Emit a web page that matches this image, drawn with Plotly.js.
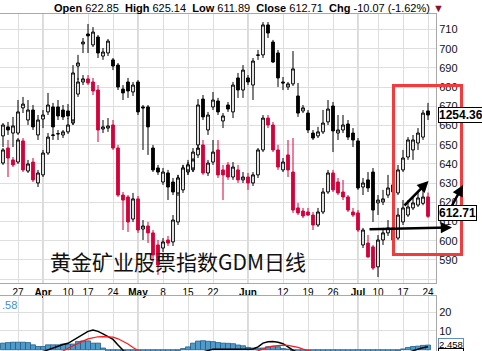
<!DOCTYPE html>
<html><head><meta charset="utf-8">
<script src="https://cdn.plot.ly/plotly-3.0.1.min.js"></script>
<style>html,body{margin:0;padding:0;background:#fff;overflow:hidden}#chart{width:482px;height:351px}</style>
</head><body><div id="chart"></div>
<script>
// trading days (2006)
const dates = [
'2006-03-22','2006-03-23','2006-03-24','2006-03-27','2006-03-28','2006-03-29','2006-03-30','2006-03-31',
'2006-04-03','2006-04-04','2006-04-05','2006-04-06','2006-04-07','2006-04-10','2006-04-11','2006-04-12','2006-04-13',
'2006-04-17','2006-04-18','2006-04-19','2006-04-20','2006-04-21','2006-04-24','2006-04-25','2006-04-26','2006-04-27','2006-04-28',
'2006-05-01','2006-05-02','2006-05-03','2006-05-04','2006-05-05','2006-05-08','2006-05-09','2006-05-10','2006-05-11','2006-05-12',
'2006-05-15','2006-05-16','2006-05-17','2006-05-18','2006-05-19','2006-05-22','2006-05-23','2006-05-24','2006-05-25','2006-05-26',
'2006-05-30','2006-05-31',
'2006-06-01','2006-06-02','2006-06-05','2006-06-06','2006-06-07','2006-06-08','2006-06-09','2006-06-12','2006-06-13','2006-06-14',
'2006-06-15','2006-06-16','2006-06-19','2006-06-20','2006-06-21','2006-06-22','2006-06-23','2006-06-26','2006-06-27','2006-06-28',
'2006-06-29','2006-06-30',
'2006-07-03','2006-07-05','2006-07-06','2006-07-07','2006-07-10','2006-07-11','2006-07-12','2006-07-13','2006-07-14',
'2006-07-17','2006-07-18','2006-07-19','2006-07-20','2006-07-21','2006-07-24'];

// gold series (right axis) – red down / hollow up
const rOpen  = [640.5,648.3,642.1,641.0,652.0,636.3,641.0,630.1,634.3,645.7,654.8,655.6,655.1,656.7,661.3,676.4,682.7,684.3,682.7,678.5,658.2,658.7,660.3,648.3,623.8,622.8,611.3,621.8,606.1,607.7,604.1,597.8,596.2,600.4,599.4,609.8,629.1,635.8,636.9,644.7,649.9,635.3,641.0,647.3,636.9,639.5,633.2,636.9,631.7,633.2,630.1,634.3,647.3,663.9,660.3,647.3,636.9,644.7,635.8,617.1,615.5,615.0,613.4,608.2,615.0,625.4,635.3,630.6,625.4,622.8,615.0,614.5,597.8,598.8,596.8,586.4,600.4,604.1,606.7,601.4,609.8,613.4,617.1,618.6,619.5,622.85];
const rHigh  = [648.3,652.5,643.6,653.5,653.5,642.1,643.1,636.9,647.3,656.1,657.7,657.7,657.7,663.9,670.7,684.8,686.3,686.3,684.8,681.1,662.9,663.9,662.9,649.9,625.4,623.8,624.9,623.3,610.8,609.8,605.6,600.4,601.4,602.5,613.4,634.3,639.5,642.1,648.3,649.9,652.5,642.1,652.5,652.5,639.5,641.0,641.0,639.5,635.8,635.3,635.8,648.3,665.5,665.5,661.9,649.9,643.1,652.5,653.5,619.7,617.1,617.1,615.0,617.1,627.5,636.9,636.9,632.7,631.7,623.8,617.1,616.0,606.7,603.0,597.8,603.0,606.7,610.8,609.8,617.1,621.2,621.2,623.3,625.4,626.5,625.14];
const rLow   = [639.5,633.2,638.4,640.0,635.8,635.3,630.6,628.0,633.2,644.7,652.5,652.5,653.5,655.6,660.3,674.9,681.1,681.1,675.9,651.4,656.1,656.7,647.3,622.8,605.6,604.6,609.8,604.1,600.4,598.8,589.0,582.2,594.1,597.3,597.3,608.2,626.5,634.3,635.8,643.1,634.3,633.7,639.5,632.7,621.2,631.7,631.7,630.1,630.1,626.5,628.5,632.7,646.2,658.7,646.2,636.9,635.8,633.2,614.5,613.4,611.8,612.9,605.6,607.2,613.9,624.4,625.4,623.8,621.2,615.0,612.4,604.6,596.2,591.1,584.8,581.1,597.8,602.5,599.4,600.4,608.2,612.4,616.0,617.6,618.5,611.89];
const rClose = [647.3,643.1,639.5,652.5,636.9,640.0,631.7,635.3,645.7,654.0,655.1,655.8,656.7,660.3,668.1,682.7,684.3,682.2,678.0,657.7,659.3,659.8,648.3,623.8,621.2,609.8,621.8,605.6,607.7,604.1,592.6,587.4,599.4,598.8,610.8,632.7,637.9,639.5,646.2,648.3,635.3,640.5,646.2,634.3,634.3,633.2,638.4,631.7,633.2,630.1,634.3,647.3,663.9,660.3,647.3,638.4,641.0,636.9,616.0,614.5,612.9,613.4,608.2,615.0,625.4,635.3,626.5,624.9,622.8,616.0,613.4,605.6,605.6,591.6,585.8,600.4,604.1,606.7,600.4,613.4,617.1,617.6,619.7,622.3,622.78,612.71];

// GDM series (drawn on the same scale) – black down / hollow up
const gdmLast = '1254.36';
const kOpen  = [654.6,659.3,656.1,656.1,669.2,662.9,668.1,655.1,663.4,667.1,669.7,669.7,668.1,667.6,662.9,691.0,702.5,707.7,702.0,706.1,696.2,697.8,694.2,691.5,679.0,682.7,677.5,682.7,669.7,669.7,648.3,637.9,630.6,635.3,630.6,624.9,626.5,636.9,637.9,649.9,673.8,657.7,669.7,672.8,662.4,670.7,667.1,684.8,678.5,684.8,681.1,696.8,696.8,712.4,703.5,697.8,682.7,680.1,681.7,675.4,667.6,666.5,656.1,654.6,656.7,661.9,670.2,656.1,657.7,660.8,656.1,652.0,628.0,631.7,635.8,619.7,620.2,623.8,625.4,624.9,636.9,643.6,647.3,650.9,654.0,667.6];
const kHigh  = [661.3,661.9,664.5,673.3,674.9,673.3,670.7,665.5,668.1,677.0,671.8,673.3,670.7,671.2,691.5,696.8,705.6,712.9,711.3,707.2,700.4,705.1,695.2,692.6,681.1,684.8,682.7,683.7,670.7,670.7,649.9,639.5,637.9,636.9,632.7,634.3,639.5,641.0,643.1,673.8,675.9,667.1,677.5,674.4,666.5,672.3,682.7,687.4,691.5,686.3,695.2,699.4,713.9,713.9,704.6,699.4,685.3,682.7,698.8,682.2,670.7,668.1,657.7,659.3,668.1,673.3,672.3,665.5,665.5,662.9,658.7,653.5,632.7,635.8,637.9,623.8,626.5,634.3,631.7,639.5,647.3,654.0,655.1,658.7,668.1,671.8];
const kLow   = [648.8,655.1,648.8,655.1,666.5,660.3,657.7,652.5,658.7,665.5,657.7,662.9,662.9,663.4,660.3,683.7,697.8,697.8,700.9,695.2,694.2,696.2,688.9,678.5,673.3,674.4,675.4,665.5,647.3,644.7,635.8,634.3,629.1,621.2,623.8,623.3,624.9,634.3,635.8,647.3,662.9,655.1,668.1,665.5,658.7,667.1,663.9,674.4,674.4,681.1,673.3,694.2,695.2,705.6,692.6,680.1,678.5,678.5,680.6,664.5,666.5,656.1,652.5,653.5,655.6,660.3,646.2,652.5,656.1,652.5,648.8,626.5,623.8,625.4,609.8,613.4,618.6,622.3,623.8,623.8,635.8,642.1,642.1,647.3,652.5,662.9];
const kClose = [660.3,657.7,659.8,667.1,671.2,668.1,659.3,662.9,665.5,670.7,659.3,665.0,664.5,665.0,687.4,692.6,703.5,706.7,708.7,697.8,698.3,704.0,691.0,680.1,677.0,678.0,681.1,667.1,669.2,659.3,636.9,635.8,635.8,628.0,625.4,632.7,637.9,639.5,642.1,670.7,664.5,665.5,673.3,667.1,665.0,668.6,681.1,678.5,688.9,682.7,693.6,696.6,712.4,708.2,693.1,684.8,682.2,681.7,689.5,666.5,669.2,657.7,653.5,656.7,661.3,668.6,657.2,657.7,660.3,654.0,652.5,627.5,630.1,627.5,616.0,621.2,621.8,627.5,629.1,636.9,643.1,652.5,652.5,656.1,666.5,665.5];

// MACD panel
const macdHist   = [3.5,3.8,4.0,4.0,4.0,3.8,2.6,1.7,1.7,2.6,2.6,2.6,3.0,3.0,3.0,4.4,4.7,4.7,3.5,3.5,0.9,-1.0,-2.5,-4.0,-5.5,-6.5,-7.0,-7.0,-6.5,-6.0,-5.0,-4.0,-3.0,-2.0,-1.2,-0.4,0.6,1.5,3.5,4.6,4.8,4.5,4.3,3.8,3.5,3.4,3.2,2.5,2.1,1.2,0.9,0.8,0.9,1.6,1.8,1.6,0.6,0.3,-0.5,-1.5,-2.5,-3.2,-3.8,-4.0,-3.8,-3.2,-3.0,-2.8,-2.6,-2.6,-2.8,-3.5,-3.6,-3.6,-3.8,-3.2,-2.6,-1.9,-1.3,-0.5,0.4,1.2,1.7,1.9,2.3,2.458];
const macdLine   = [-4,-4.5,-4.8,-4.6,-4.2,-3.8,-3.5,-3.0,-1.0,0.0,1.0,2.0,2.8,3.4,5.0,7.0,8.6,9.8,10.5,9.8,8.5,7.2,5.5,2.5,-0.7,-3,-5,-7,-9,-11,-13,-14,-14,-13,-12,-10,-8,-6,-4,-2.5,-1.2,-0.5,0.3,0.3,0.4,0.3,0.3,0.3,0.3,0.3,0.4,1.5,3.5,4.2,4.4,4.0,3.2,1.5,-0.5,-2,-3.5,-5,-6,-6.5,-6.5,-6,-6,-6,-6,-6.5,-7,-8.5,-9.5,-10,-10.5,-10,-8.5,-7,-5.5,-3.5,-2.6,-1.5,-0.5,0.3,1.0,1.59];
const macdSignal = [-7.5,-7.6,-7.8,-8.0,-7.6,-7.0,-6.0,-4.6,-3.5,-2.6,-2.0,-1.5,-0.7,0.8,2.2,3.4,4.6,5.8,6.5,6.9,7.0,7.0,6.7,5.8,4.5,3.0,1.2,-0.7,-2.0,-4,-6,-8,-9.5,-10.5,-11,-11,-10.5,-9.5,-8,-6.5,-5,-4,-3.5,-3.2,-3,-2.8,-2.5,-2.2,-2,-1.8,-1.5,-0.6,0.5,1.4,1.9,2.2,2.4,2.3,1.8,1.2,0.3,-0.6,-1.5,-2.5,-3.3,-4,-4.5,-4.8,-5,-5.2,-5.5,-6,-6.5,-7,-7.5,-7.5,-7,-6.2,-5.3,-3.0,-3.0,-2.7,-2.2,-1.6,-1.3,-0.868];

const tickDates = ['2006-03-27','2006-04-03','2006-04-10','2006-04-17','2006-04-24','2006-05-01','2006-05-08','2006-05-15','2006-05-22','2006-06-01','2006-06-12','2006-06-19','2006-06-26','2006-07-03','2006-07-10','2006-07-17','2006-07-24'];
const tickText  = ['27','<b>Apr</b>','10','17','24','<b>May</b>','8','15','22','<b>Jun</b>','12','19','26','<b>Jul</b>','10','17','24'];
const monthStarts = ['2006-04-03','2006-05-01','2006-06-01','2006-07-03'];
const priceTicks = [580,590,600,610,620,630,640,650,660,670,680,690,700,710];
const priceTickText = ['','590','600','610','620','630','640','650','660','670','680','690','700','710'];
const macdTicks = [10,20];
const title = '黄金矿业股票指数GDM日线';

const n = dates.length;
const xs = dates.map((d,i)=>i);
const tickIdx = tickDates.map(d=>dates.indexOf(d));
const monthIdx = monthStarts.map(d=>dates.indexOf(d));

const H = 351, PW = 436;
const px = v => v/PW;
const py = v => (H - v)/H;
const FONT = 'Liberation Sans, Arial, sans-serif';
const RED = '#d4003b';

const traces = [
  {type:'candlestick', x:xs, open:rOpen, high:rHigh, low:rLow, close:rClose, xaxis:'x', yaxis:'y',
   whiskerwidth:0, hoverinfo:'skip',
   increasing:{line:{color:'#000', width:1}, fillcolor:'#fff'},
   decreasing:{line:{color:RED, width:1}, fillcolor:RED}},
  {type:'candlestick', x:xs, open:kOpen, high:kHigh, low:kLow, close:kClose, xaxis:'x', yaxis:'y',
   whiskerwidth:0, hoverinfo:'skip',
   increasing:{line:{color:'#000', width:1}, fillcolor:'#fff'},
   decreasing:{line:{color:'#000', width:1}, fillcolor:'#000'}},
  {type:'bar', x:xs, y:macdHist, xaxis:'x2', yaxis:'y2', hoverinfo:'skip',
   marker:{color:'#4e9bc9', line:{color:'#1f5e8c', width:0.8}}},
  {type:'scatter', mode:'lines', x:xs, y:macdLine, xaxis:'x2', yaxis:'y2', hoverinfo:'skip',
   line:{color:'#000', width:1.5}},
  {type:'scatter', mode:'lines', x:xs, y:macdSignal, xaxis:'x2', yaxis:'y2', hoverinfo:'skip',
   line:{color:'#ff1a1a', width:1.2}}
];

const shapes = [];
monthIdx.forEach(i=>{
  shapes.push({type:'line', xref:'x', yref:'y domain', x0:i, x1:i, y0:0, y1:1, line:{color:'#b5b5b5', width:1}, layer:'below'});
  shapes.push({type:'line', xref:'x2', yref:'y2 domain', x0:i, x1:i, y0:0, y1:1, line:{color:'#b5b5b5', width:1}, layer:'below'});
});
shapes.push({type:'rect', xref:'paper', yref:'paper', x0:px(393.5), x1:px(461.5), y0:py(254.5), y1:py(85.5),
  line:{color:'#f03c3c', width:3}, fillcolor:'rgba(0,0,0,0)', layer:'above'});

const last = n-1;
const chg = rClose[last] - rClose[last-1];
const pct = chg / rClose[last-1] * 100;
const sp = '&nbsp;&nbsp;';
const header = '<b>Open</b> ' + rOpen[last].toFixed(2) + sp + '<b>High</b> ' + rHigh[last].toFixed(2) + sp +
  '<b>Low</b> ' + rLow[last].toFixed(2) + sp + '<b>Close</b> ' + rClose[last].toFixed(2) + sp +
  '<b>Chg</b> ' + chg.toFixed(2) + ' (' + pct.toFixed(2) + '%) <span style="color:#8b1030">▼</span>';

function arrow(hx, hy, tx, ty){
  return {xref:'paper', yref:'paper', x:px(hx), y:py(hy), ax:tx-hx, ay:ty-hy, text:'', showarrow:true,
    arrowhead:2, arrowsize:0.9, arrowwidth:2.5, arrowcolor:'#000', standoff:0, startstandoff:0};
}

const annotations = [
  {xref:'paper', yref:'paper', x:px(52), y:py(7.5), xanchor:'left', yanchor:'middle', showarrow:false,
   text:header, font:{family:FONT, size:11, color:'#000'}},
  {xref:'paper', yref:'paper', x:px(48), y:py(261), xanchor:'left', yanchor:'middle', showarrow:false,
   text:title, font:{family:'Noto Sans CJK SC, sans-serif', size:21, color:'#111'}},
  arrow(452, 227.5, 368, 229.3),
  arrow(428.5, 181, 403, 207),
  arrow(463, 185, 447, 215),
  {xref:'paper', yref:'y', x:px(438), y:kClose[last], xanchor:'left', yanchor:'middle', showarrow:false,
   text:'<b>'+gdmLast+'</b>', bgcolor:'#fff', bordercolor:'#000', borderwidth:1, borderpad:0,
   font:{family:FONT, size:12, color:'#000'}},
  {xref:'paper', yref:'y', x:px(438), y:rClose[last], yshift:3, xanchor:'left', yanchor:'middle', showarrow:false,
   text:'<b>'+rClose[last].toFixed(2)+'</b>', bgcolor:'#fff', bordercolor:'#000', borderwidth:1, borderpad:0,
   font:{family:FONT, size:12, color:'#000'}},
  {xref:'paper', yref:'y2', x:px(438), y:macdHist[last], yshift:1, xanchor:'left', yanchor:'middle', showarrow:false,
   text:macdHist[last].toFixed(3), bgcolor:'#fff', bordercolor:'#5f90bf', borderwidth:1, borderpad:0,
   font:{family:FONT, size:9.5, color:'#000'}},
  {xref:'paper', yref:'y2', x:px(438), y:macdLine[last], yshift:-8, xanchor:'left', yanchor:'middle', showarrow:false,
   text:macdLine[last].toFixed(3), bgcolor:'#fff', bordercolor:'#000', borderwidth:1, borderpad:0,
   font:{family:FONT, size:9.5, color:'#000'}},
  {xref:'paper', yref:'paper', x:0, y:py(305), xanchor:'left', yanchor:'middle', showarrow:false,
   text:'.58', font:{family:FONT, size:11, color:'#3b8fd0'}}
];

const gridC = '#dedede';
const layout = {
  width:482, height:351, margin:{l:0, r:46, t:0, b:0},
  paper_bgcolor:'#fff', plot_bgcolor:'#fff', showlegend:false, hovermode:false,
  boxgap:0.22, bargap:0,
  xaxis:{domain:[0,1], anchor:'y', range:[-0.6, 86.6], tickmode:'array', tickvals:tickIdx, ticktext:tickText,
    showgrid:true, gridcolor:gridC, zeroline:false, showline:true, mirror:true, linecolor:'#a8a8a8',
    ticks:'', tickfont:{family:FONT, size:10, color:'#000'}, rangeslider:{visible:false}, fixedrange:true},
  yaxis:{domain:[py(283), py(14)], anchor:'x', side:'right', range:[578.0, 718.1], tickmode:'array',
    tickvals:priceTicks, ticktext:priceTickText,
    showgrid:true, gridcolor:gridC, zeroline:false, showline:true, linecolor:'#a8a8a8', ticks:'',
    tickfont:{family:FONT, size:11, color:'#111'}, fixedrange:true},
  xaxis2:{domain:[0,1], anchor:'y2', matches:'x', range:[-0.6, 86.6], tickmode:'array', tickvals:tickIdx,
    showticklabels:false, showgrid:true, gridcolor:gridC, zeroline:false, showline:true, mirror:true, linecolor:'#a8a8a8', ticks:'', fixedrange:true},
  yaxis2:{domain:[0, py(296)], anchor:'x2', side:'right', range:[-0.7, 28.7], tickmode:'array', tickvals:macdTicks,
    showgrid:true, gridcolor:gridC, zeroline:false, showline:true, linecolor:'#a8a8a8', ticks:'',
    tickfont:{family:FONT, size:11, color:'#111'}, fixedrange:true},
  shapes:shapes, annotations:annotations
};

Plotly.newPlot('chart', traces, layout, {staticPlot:true, displayModeBar:false});
</script></body></html>
